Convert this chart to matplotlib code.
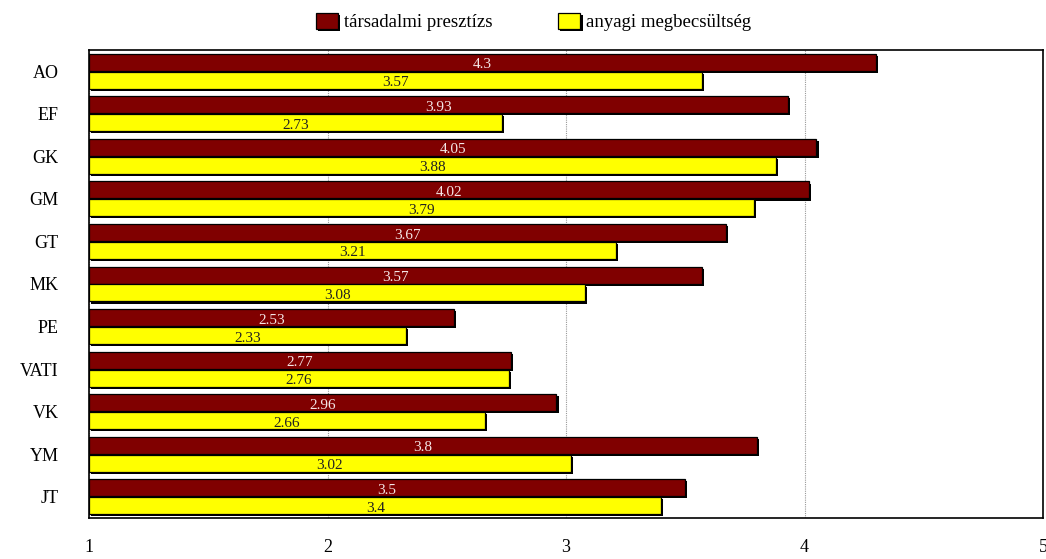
import matplotlib.pyplot as plt
import matplotlib.patheffects as pe
import numpy as np

plt.rcParams['font.family'] = ['Liberation Serif', 'DejaVu Serif']

# kategóriák és értékek
kategoriak = ['AO', 'EF', 'GK', 'GM', 'GT', 'MK', 'PE', 'VATI', 'VK', 'YM', 'JT']
presztizs = [4.3, 3.93, 4.05, 4.02, 3.67, 3.57, 2.53, 2.77, 2.96, 3.8, 3.5]
megbecsultseg = [3.57, 2.73, 3.88, 3.79, 3.21, 3.08, 2.33, 2.76, 2.66, 3.02, 3.4]
sorozatok = ['társadalmi presztízs', 'anyagi megbecsültség']

fig = plt.figure(figsize=(10.46, 5.59), dpi=100)
ax = fig.add_axes([89 / 1046, 41 / 559, 954 / 1046, 468 / 559])

y = np.arange(len(kategoriak))
h = 0.40
d = 0.21
arnyek = [pe.SimplePatchShadow(offset=(1.5, -1.5), shadow_rgbFace='black', alpha=1), pe.Normal()]

ax.grid(axis='x', color='#999999', linestyle=(0, (1, 1)), linewidth=0.8, zorder=0)

b1 = ax.barh(y - d, np.array(presztizs) - 1, left=1, height=h, color='#800000',
             edgecolor='black', linewidth=0.9, label=sorozatok[0], zorder=2)
b2 = ax.barh(y + d, np.array(megbecsultseg) - 1, left=1, height=h, color='#FFFF00',
             edgecolor='black', linewidth=0.9, label=sorozatok[1], zorder=2)
for b in list(b1) + list(b2):
    b.set_path_effects(arnyek)

for i, v in enumerate(presztizs):
    ax.text((1 + v) / 2, i - d + 0.06, str(v), ha='center', va='center',
            color='#f4e6e6', fontsize=11, zorder=3)
for i, v in enumerate(megbecsultseg):
    ax.text((1 + v) / 2, i + d + 0.06, str(v), ha='center', va='center',
            color='#222222', fontsize=11, zorder=3)

ax.set_xlim(1, 5)
ax.set_ylim(len(kategoriak) - 0.5, -0.5)
ax.set_xticks([1, 2, 3, 4, 5])
ax.set_xticklabels(['1', '2', '3', '4', '5'])
ax.set_yticks(y)
ax.set_yticklabels(kategoriak)
ax.tick_params(axis='both', length=0, labelsize=13)
ax.tick_params(axis='x', pad=15)
ax.tick_params(axis='y', pad=22)
for s in ax.spines.values():
    s.set_linewidth(1.2)
ax.set_axisbelow(True)

fig.legend(loc='center', bbox_to_anchor=(0.51, 1 - 22 / 559), ncol=2, frameon=False,
           fontsize=13.5, handlelength=1.2, handleheight=1.0, handletextpad=0.3,
           columnspacing=3.5)

fig.savefig('out.png', dpi=100)
